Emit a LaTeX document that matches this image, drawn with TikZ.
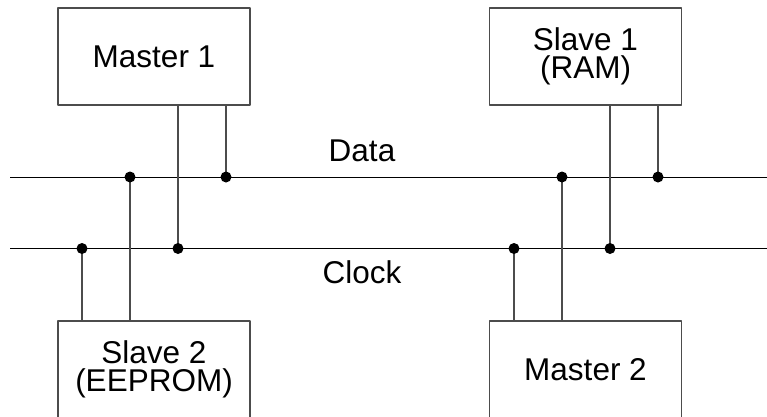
\documentclass[tikz,border=0pt]{standalone}
\usepackage{fontspec}
\setmainfont{Liberation Sans}
\usetikzlibrary{positioning}
\tikzset{
  chip/.style={draw=black!70,line width=1.1pt,minimum width=192pt,minimum height=97pt,
    inner sep=0pt,align=center,font=\fontsize{31.5}{28.5}\selectfont},
  wire/.style={draw=black!70,line width=1.1pt},
  bus/.style={draw=black,line width=1pt},
  buslabel/.style={font=\fontsize{31.5}{28.5}\selectfont,inner sep=0pt}
}
\begin{document}
\begin{tikzpicture}[x=1pt,y=-1pt,join=round] %two masters and two slaves on one bus
  \useasboundingbox (0,0) rectangle (767,416);
  \clip (0,0) rectangle (767,416);
  % boxes
  \node[chip] (master1) at (154,56.5) {Master 1};
  \node[chip] (slave1) at (585.5,56.5) {Slave 1\\(RAM)};
  \node[chip] (slave2) at (154,369.5) {Slave 2\\(EEPROM)};
  \node[chip] (master2) at (585.5,369.5) {Master 2};
  % bus lines
  \coordinate (dataL) at (10,177);
  \coordinate (dataR) at (770,177);
  \coordinate (clkL) at (10,248.5);
  \coordinate (clkR) at (770,248.5);
  \draw[bus] (dataL) -- (dataR);
  \draw[bus] (clkL) -- (clkR);
  \node[buslabel] (data) at (362,151) {Data};
  \node[buslabel] (clock) at (362,272) {Clock};
  % taps
  \coordinate (d1) at (130,177);
  \coordinate (d2) at (226,177);
  \coordinate (d3) at (562,177);
  \coordinate (d4) at (658,177);
  \coordinate (c1) at (82,248.5);
  \coordinate (c2) at (178,248.5);
  \coordinate (c3) at (514,248.5);
  \coordinate (c4) at (610,248.5);
  \draw[wire] (master1.south -| c2) -- (c2);
  \draw[wire] (master1.south -| d2) -- (d2);
  \draw[wire] (slave1.south -| c4) -- (c4);
  \draw[wire] (slave1.south -| d4) -- (d4);
  \draw[wire] (slave2.north -| c1) -- (c1);
  \draw[wire] (slave2.north -| d1) -- (d1);
  \draw[wire] (master2.north -| c3) -- (c3);
  \draw[wire] (master2.north -| d3) -- (d3);
  \foreach \p in {d1,d2,d3,d4,c1,c2,c3,c4}
    \fill (\p) circle (5.5pt);
\end{tikzpicture}
\end{document}
